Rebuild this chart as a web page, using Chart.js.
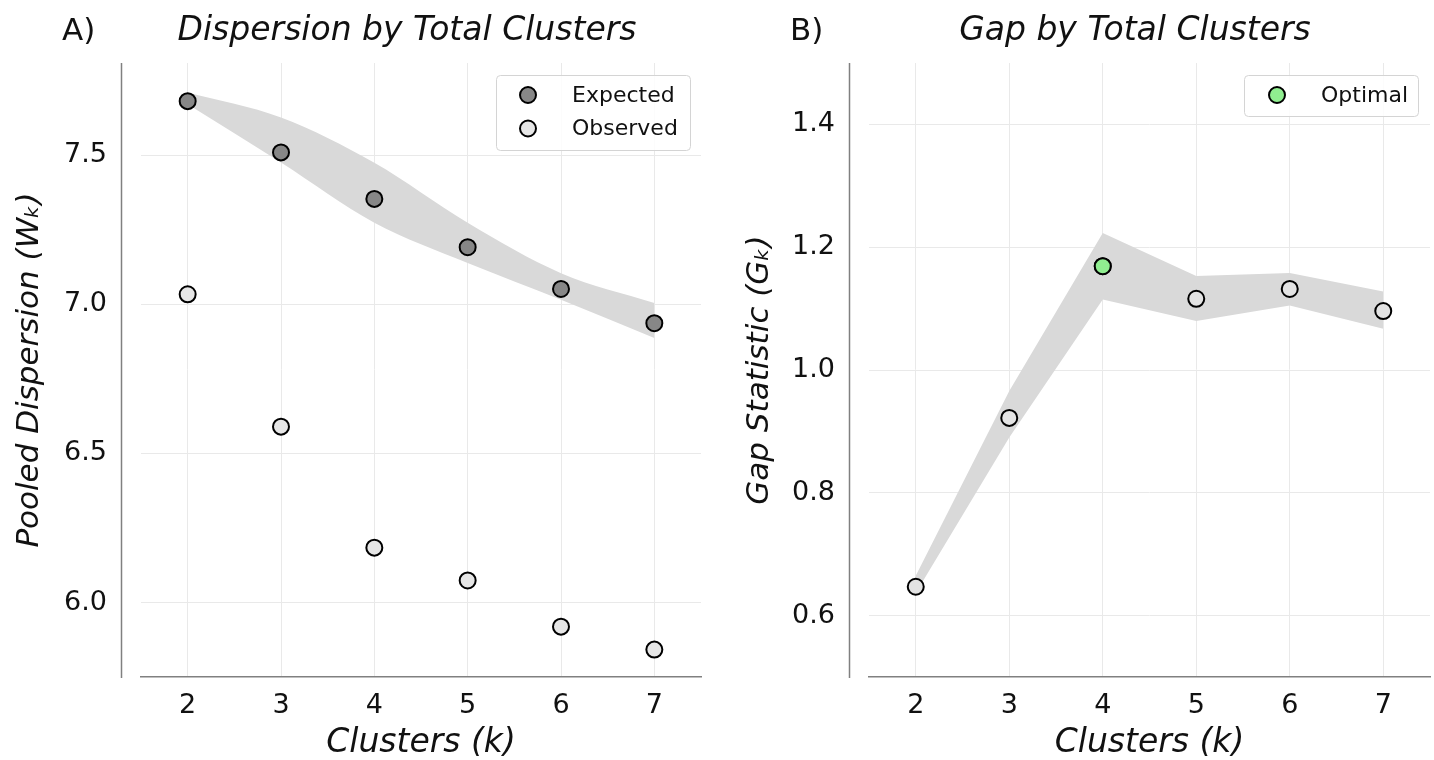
<!DOCTYPE html>
<html>
<head>
<meta charset="utf-8">
<title>Gap statistic</title>
<script src="https://cdn.jsdelivr.net/npm/chart.js@4.4.1/dist/chart.umd.min.js"></script>
<style>
  html, body { margin: 0; padding: 0; background: #fff; }
  body { width: 1434px; height: 760px; position: relative; overflow: hidden; }
  .panel { position: absolute; top: 0; height: 760px; }
</style>
</head>
<body>
<div class="panel" style="left:0;width:717px"><canvas id="dispChart" width="717" height="760"></canvas></div>
<div class="panel" style="left:717px;width:723px"><canvas id="gapChart" width="723" height="760"></canvas></div>
<script>
// values
const clusters = [2, 3, 4, 5, 6, 7];
const expectedDisp = [7.682, 7.510, 7.354, 7.192, 7.052, 6.937];
const expectedUpper = [7.711, 7.627, 7.475, 7.274, 7.105, 7.005];
const expectedLower = [7.672, 7.476, 7.274, 7.139, 7.016, 6.887];
const observedDisp = [7.034, 6.590, 6.184, 6.074, 5.919, 5.842];

const gapValues = [0.647, 0.922, 1.169, 1.116, 1.132, 1.096];
const gapUpper = [0.665, 0.966, 1.223, 1.153, 1.158, 1.128];
const gapLower = [0.637, 0.890, 1.115, 1.080, 1.105, 1.067];
const optimalK = 4;

const dispTicks = [6.0, 6.5, 7.0, 7.5];
const gapTicks = [0.6, 0.8, 1.0, 1.2, 1.4];

const FONT = '"DejaVu Sans", sans-serif';
const GRID = '#e9e9e9';
const SPINE = '#808080';
const BAND = '#d9d9d9';

const pts = (ys) => clusters.map((k, i) => ({ x: k, y: ys[i] }));

function markers(label, data, fill) {
  return {
    label: label, data: data, showLine: false,
    pointRadius: 8, pointHoverRadius: 8,
    pointBackgroundColor: fill, pointBorderColor: '#000', pointBorderWidth: 2
  };
}
function bandEdge(data, fill, smooth) {
  return {
    data: data, fill: fill, backgroundColor: BAND,
    borderWidth: 0, borderColor: 'rgba(0,0,0,0)', pointRadius: 0,
    cubicInterpolationMode: smooth ? 'monotone' : 'default', tension: 0
  };
}

// offset y spine, panel letter + title, boxed legend
const panelDecor = {
  id: 'panelDecor',
  afterDraw(chart, args, o) {
    const { ctx, chartArea: a } = chart;
    ctx.save();
    ctx.strokeStyle = SPINE;
    ctx.lineWidth = 1.5;
    ctx.beginPath();
    ctx.moveTo(a.left - 19.5, a.top);
    ctx.lineTo(a.left - 19.5, a.bottom + 1);
    ctx.stroke();

    ctx.fillStyle = '#111';
    ctx.textBaseline = 'alphabetic';
    ctx.textAlign = 'left';
    ctx.font = '31px ' + FONT;
    ctx.fillText(o.tag, o.tagX, 40);
    ctx.textAlign = 'center';
    ctx.font = 'italic 33px ' + FONT;
    ctx.fillText(o.title, o.titleX, 40);

    const L = o.legend;
    ctx.beginPath();
    ctx.roundRect(L.x + 0.5, L.y + 0.5, L.w, L.h, 4);
    ctx.fillStyle = 'rgba(255,255,255,0.85)';
    ctx.fill();
    ctx.strokeStyle = '#d4d4d4';
    ctx.lineWidth = 1;
    ctx.stroke();
    L.items.forEach((idx, i) => {
      const ds = chart.data.datasets[idx];
      const y = L.y + 20 + i * 33.5;
      ctx.beginPath();
      ctx.arc(L.markerX, y, 8, 0, Math.PI * 2);
      ctx.fillStyle = ds.pointBackgroundColor;
      ctx.fill();
      ctx.lineWidth = 2;
      ctx.strokeStyle = '#000';
      ctx.stroke();
      ctx.fillStyle = '#111';
      ctx.textAlign = 'left';
      ctx.textBaseline = 'middle';
      ctx.font = '22px ' + FONT;
      ctx.fillText(ds.label, L.markerX + 44, y + 1);
    });
    ctx.restore();
  }
};

function baseOptions(yMin, yMax, yTicks, yTitle, padLeft, padRight, yWidth, decor) {
  return {
    responsive: false,
    animation: false,
    layout: { padding: { left: padLeft, right: padRight, top: 63, bottom: 0 } },
    plugins: { legend: { display: false }, tooltip: { enabled: false }, panelDecor: decor },
    scales: {
      x: {
        type: 'linear', min: 1.5, max: 7.5,
        afterBuildTicks: (s) => { s.ticks = clusters.map(v => ({ value: v })); },
        afterFit: (s) => { s.height = 83; s.paddingLeft = 0; s.paddingRight = 0; },
        grid: { color: GRID, lineWidth: 1, drawTicks: false },
        border: { display: true, color: SPINE, width: 1.5 },
        ticks: { color: '#111', font: { family: FONT, size: 27 }, padding: 13, callback: v => String(v) },
        title: { display: true, text: 'Clusters (k)', color: '#111', padding: 0,
                 font: { family: FONT, size: 33, style: 'italic', lineHeight: 1 } }
      },
      y: {
        type: 'linear', min: yMin, max: yMax,
        afterBuildTicks: (s) => { s.ticks = yTicks.map(v => ({ value: v })); },
        afterFit: (s) => { s.width = yWidth; s.paddingTop = 0; s.paddingBottom = 0; },
        grid: { color: GRID, lineWidth: 1, drawTicks: false },
        border: { display: false },
        ticks: { color: '#111', font: { family: FONT, size: 27 }, padding: 34, callback: v => v.toFixed(1) },
        title: { display: true, text: yTitle, color: '#111', padding: 0,
                 font: { family: FONT, size: 31, style: 'italic' } }
      }
    }
  };
}

new Chart(document.getElementById('dispChart'), {
  type: 'line',
  data: {
    datasets: [
      markers('Expected', pts(expectedDisp), '#878787'),
      markers('Observed', pts(observedDisp), '#e6e6e6'),
      bandEdge(pts(expectedUpper), '+1', true),
      bandEdge(pts(expectedLower), false, true)
    ]
  },
  options: baseOptions(5.75, 7.81, dispTicks, 'Pooled Dispersion (W\u2096)', 11, 16, 130, {
    tag: 'A)', tagX: 62, title: 'Dispersion by Total Clusters', titleX: 407,
    legend: { x: 496, y: 75, w: 194, h: 75, markerX: 528, items: [0, 1] }
  }),
  plugins: [panelDecor]
});

new Chart(document.getElementById('gapChart'), {
  type: 'line',
  data: {
    datasets: [
      markers('Optimal', [{ x: optimalK, y: gapValues[clusters.indexOf(optimalK)] }], '#90ee90'),
      markers('Gap', pts(gapValues), '#e3e3e3'),
      bandEdge(pts(gapUpper), '+1', false),
      bandEdge(pts(gapLower), false, false)
    ]
  },
  options: baseOptions(0.5, 1.5, gapTicks, 'Gap Statistic (G\u2096)', 24, 10, 128, {
    tag: 'B)', tagX: 73, title: 'Gap by Total Clusters', titleX: 418,
    legend: { x: 527, y: 75, w: 174, h: 41, markerX: 560, items: [0] }
  }),
  plugins: [panelDecor]
});
</script>
</body>
</html>
